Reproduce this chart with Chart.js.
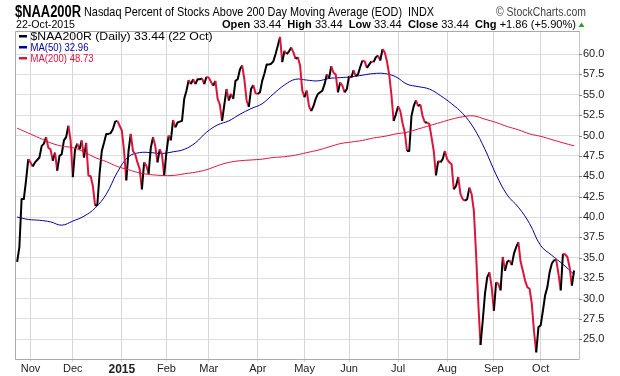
<!DOCTYPE html>
<html>
<head>
<meta charset="utf-8">
<script src="https://cdn.jsdelivr.net/npm/chart.js@4.4.1/dist/chart.umd.min.js"></script>
<style>
  html, body { margin: 0; padding: 0; background: #fff; }
  #wrap { position: relative; width: 620px; height: 376px; }
</style>
</head>
<body>
<div id="wrap"><canvas id="chart" width="620" height="376"></canvas></div>
<script>
// x axis is a trading-day index, 0 = 3 Nov 2014
const monthStarts = [0, 19, 41, 61, 80, 102, 123, 143, 165, 187, 208, 229];
const monthLabels = ['Nov', 'Dec', '2015', 'Feb', 'Mar', 'Apr', 'May', 'Jun', 'Jul', 'Aug', 'Sep', 'Oct'];
const yTickValues = [25, 27.5, 30, 32.5, 35, 37.5, 40, 42.5, 45, 47.5, 50, 52.5, 55, 57.5, 60];

// daily closes, first one is 24 Oct 2014 (index -6), last 22 Oct 2015
const firstDay = -6;
const closes = [
  34.5, 36.3, 42.2, 42.2, 44.5, 47.1,
  46.7, 46.2, 46.7, 47.0, 47.3, 48.7, 49.0, 49.8, 48.5, 48.3,
  46.9, 47.9, 45.7, 47.5, 47.7, 49.4, 49.8, 51.2, 49.4, 44.9,
  48.3, 49.0, 48.3, 49.4, 47.3, 49.1, 45.1, 45.0, 43.8, 41.4,
  41.5, 45.3, 48.1, 49.1, 50.2, 50.2, 50.3, 50.8, 51.7, 51.8,
  51.2, 50.6, 48.1, 44.5, 48.1, 50.2, 48.1, 47.7, 46.7, 45.9,
  43.4, 46.7, 46.3, 45.3, 48.5, 49.8, 48.7, 46.7, 48.3, 47.7,
  45.1, 47.9, 50.0, 49.4, 51.9, 51.0, 51.6, 51.7, 51.8, 54.5,
  55.5, 56.8, 56.3, 56.9, 56.3, 56.9, 56.9, 57.0, 56.3, 57.2,
  57.1, 56.6, 56.1, 56.7, 54.5, 53.8, 51.8, 53.8, 55.7, 54.3,
  55.1, 54.5, 56.7, 56.9, 58.1, 58.6, 56.9, 54.3, 53.5, 55.7,
  56.2, 55.2, 55.1, 55.3, 56.7, 57.6, 58.7, 58.7, 58.8, 59.1,
  60.0, 61.0, 62.1, 59.0, 60.4, 60.0, 60.3, 60.8, 60.2, 59.4,
  59.6, 58.6, 55.5, 54.7, 55.5, 53.6, 53.0, 53.6, 54.5, 55.1,
  55.3, 55.5, 56.3, 57.5, 57.0, 58.5, 57.7, 57.5, 55.3, 56.5,
  56.1, 55.3, 55.7, 57.3, 57.1, 58.0, 57.3, 57.5, 58.4, 59.2,
  59.1, 58.3, 58.7, 59.1, 59.0, 59.6, 59.8, 59.2, 60.6, 60.2,
  59.1, 57.5, 55.0, 51.8, 52.6, 53.6, 53.0, 51.5, 50.4, 48.1,
  48.1, 52.4, 53.6, 54.3, 53.6, 53.8, 52.4, 51.6, 51.6, 51.4,
  49.8, 48.1, 45.1, 46.9, 46.7, 47.1, 48.1, 47.1, 46.7, 46.5,
  43.4, 43.8, 44.9, 42.8, 42.2, 42.0, 42.2, 43.6, 42.8, 40.8,
  35.5, 29.4, 24.3, 27.3, 30.6, 32.6, 33.2, 31.4, 28.5, 32.0,
  31.8, 31.0, 35.1, 33.4, 34.5, 34.7, 34.1, 35.5, 36.3, 36.9,
  34.5, 33.4, 32.2, 31.4, 31.2, 29.4, 26.0, 23.4, 26.5, 26.7,
  28.5, 30.4, 31.4, 33.2, 34.3, 34.7, 34.7, 33.0, 31.0, 35.5,
  35.4, 35.1, 33.8, 31.58, 33.44
];

// moving averages read every 5 trading days, from index -6
const maStart = -6;
const maStep = 5;
const ma50 = [
  40.0, 39.7, 39.6, 39.4, 39.0, 39.5, 40.1, 41.1, 42.8, 45.5,
  47.4, 47.9, 47.9, 47.8, 48.0, 48.3, 49.1, 50.4, 51.3, 51.8,
  52.6, 53.3, 53.9, 55.1, 56.2, 56.9, 56.8, 56.7, 57.0, 57.1,
  57.2, 57.4, 57.6, 57.6, 57.2, 56.3, 56.0, 55.7, 54.9, 53.9,
  52.7, 50.9, 48.3, 45.2, 42.7, 41.2, 39.2, 36.5, 35.3, 34.2,
  32.96
];
const ma200 = [
  50.9, 50.3, 49.7, 49.1, 48.7, 48.5, 48.0, 47.3, 46.8, 46.2,
  45.8, 45.4, 45.2, 45.1, 45.1, 45.3, 45.5, 45.8, 46.3, 46.7,
  46.9, 47.0, 47.1, 47.3, 47.4, 47.6, 47.9, 48.2, 48.6, 49.0,
  49.2, 49.4, 49.7, 49.9, 50.2, 50.4, 50.8, 51.2, 51.6, 52.0,
  52.3, 52.4, 52.0, 51.6, 51.1, 50.7, 50.2, 49.9, 49.5, 49.1,
  48.73
];

const RED = '#dc143c';
const NAVY = '#0000a0';
const FONT = 'Liberation Sans, Arial, sans-serif';

const pricePts = closes.map((v, i) => ({ x: firstDay + i, y: v }));
const ma50Pts = ma50.map((v, i) => ({ x: maStart + i * maStep, y: v }));
const ma200Pts = ma200.map((v, i) => ({ x: maStart + i * maStep, y: v }));

// draws a row of text pieces squeezed/stretched to a given width
function fitText(c, parts, x, y, width) {
  let total = 0;
  parts.forEach(p => { c.font = p.font; p.w = c.measureText(p.t).width; total += p.w; });
  const s = width / total;
  c.save();
  c.translate(x, y);
  c.scale(s, 1);
  let cx = 0;
  parts.forEach(p => {
    c.font = p.font;
    c.fillStyle = p.color;
    c.fillText(p.t, cx, 0);
    cx += p.w;
  });
  c.restore();
}

const decorations = {
  id: 'decorations',
  afterDraw(chart) {
    const c = chart.ctx;
    const a = chart.chartArea;
    c.save();
    // frame
    c.strokeStyle = '#a9a9a9';
    c.lineWidth = 1;
    c.beginPath();
    c.moveTo(a.right + 0.5, a.top - 0.5);
    c.lineTo(a.left - 0.5, a.top - 0.5);
    c.lineTo(a.left - 0.5, a.bottom + 0.5);
    c.lineTo(a.right + 0.5, a.bottom + 0.5);
    c.stroke();
    c.setLineDash([1, 1]);
    c.strokeStyle = '#888';
    c.beginPath();
    c.moveTo(a.right + 0.5, a.top - 0.5);
    c.lineTo(a.right + 0.5, a.bottom + 0.5);
    c.stroke();
    c.setLineDash([]);
    const ys = chart.scales.y;
    c.strokeStyle = '#888';
    yTickValues.forEach(v => {
      const py = Math.round(ys.getPixelForValue(v)) + 0.5;
      c.beginPath();
      c.moveTo(a.right, py);
      c.lineTo(a.right + 3, py);
      c.stroke();
    });

    c.textBaseline = 'alphabetic';
    // header
    fitText(c, [{ t: '$NAA200R', font: 'bold 16px ' + FONT, color: '#000' }], 15, 17, 66);
    fitText(c, [{ t: 'Nasdaq Percent of Stocks Above 200 Day Moving Average (EOD)  INDX', font: '13px ' + FONT, color: '#000' }], 84, 16, 350);
    fitText(c, [{ t: '\u00A9 StockCharts.com', font: '12px ' + FONT, color: '#444' }], 496, 16, 90);
    fitText(c, [{ t: '22-Oct-2015', font: '11px ' + FONT, color: '#000' }], 16, 28, 59);
    const b = 'bold 11px ' + FONT;
    const r = '11px ' + FONT;
    fitText(c, [
      { t: 'Open', font: b, color: '#000' }, { t: ' 33.44  ', font: r, color: '#000' },
      { t: 'High', font: b, color: '#000' }, { t: ' 33.44  ', font: r, color: '#000' },
      { t: 'Low', font: b, color: '#000' }, { t: ' 33.44  ', font: r, color: '#000' },
      { t: 'Close', font: b, color: '#000' }, { t: ' 33.44  ', font: r, color: '#000' },
      { t: 'Chg', font: b, color: '#000' }, { t: ' +1.86 (+5.90%)', font: r, color: '#000' }
    ], 222, 28, 354);
    c.fillStyle = '#2e9e2e';
    c.beginPath();
    c.moveTo(578.5, 27);
    c.lineTo(584.5, 27);
    c.lineTo(581.5, 22.5);
    c.closePath();
    c.fill();

    // legend inside the plot
    const rows = [
      { t: '$NAA200R (Daily) 33.44 (22 Oct)', color: '#000', w: 182 },
      { t: 'MA(50) 32.96', color: NAVY, w: 58 },
      { t: 'MA(200) 48.73', color: RED, w: 63 }
    ];
    rows.forEach((row, i) => {
      const cy = 36 + i * 11;
      c.fillStyle = row.color;
      c.fillRect(19, cy - 1, 8, 2.5);
      fitText(c, [{ t: row.t, font: '11px ' + FONT, color: row.color }], 30.5, cy + 4, row.w);
    });
    c.restore();
  }
};

new Chart(document.getElementById('chart'), {
  type: 'line',
  data: {
    datasets: [
      {
        label: 'MA(200)',
        data: ma200Pts,
        borderColor: RED,
        borderWidth: 1,
        pointRadius: 0,
        tension: 0.4
      },
      {
        label: '$NAA200R',
        data: pricePts,
        borderColor: '#000',
        borderWidth: 2,
        pointRadius: 0,
        tension: 0,
        borderJoinStyle: 'round',
        segment: {
          borderColor: ctx => ctx.p1.parsed.y < ctx.p0.parsed.y ? RED : '#000'
        }
      },
      {
        label: 'MA(50)',
        data: ma50Pts,
        borderColor: NAVY,
        borderWidth: 1,
        pointRadius: 0,
        tension: 0.4
      }
    ]
  },
  options: {
    responsive: false,
    animation: false,
    events: [],
    layout: { padding: { left: 16, top: 32, right: 0, bottom: 0 } },
    plugins: { legend: { display: false }, tooltip: { enabled: false } },
    scales: {
      x: {
        type: 'linear',
        min: -6.51,
        max: 246.2,
        afterBuildTicks: s => { s.ticks = monthStarts.map(v => ({ value: v })); },
        afterFit: s => { s.height = 17; },
        ticks: {
          autoSkip: false,
          maxRotation: 0,
          padding: 0,
          color: '#222',
          callback: v => monthLabels[monthStarts.indexOf(v)],
          font: c => (c.tick && c.tick.value === 41)
            ? { family: FONT, size: 12, weight: 'bold' }
            : { family: FONT, size: 11 }
        },
        grid: { color: '#d6d6d6', tickLength: 3 },
        border: { display: false }
      },
      y: {
        position: 'right',
        min: 22.58,
        max: 62.70,
        afterBuildTicks: s => { s.ticks = yTickValues.map(v => ({ value: v })); },
        afterFit: s => { s.width = 41; },
        ticks: {
          padding: 4,
          color: '#222',
          font: { family: FONT, size: 11 },
          callback: v => v.toFixed(1)
        },
        grid: { color: '#dedede', drawTicks: false },
        border: { display: false }
      }
    }
  },
  plugins: [decorations]
});
</script>
</body>
</html>
